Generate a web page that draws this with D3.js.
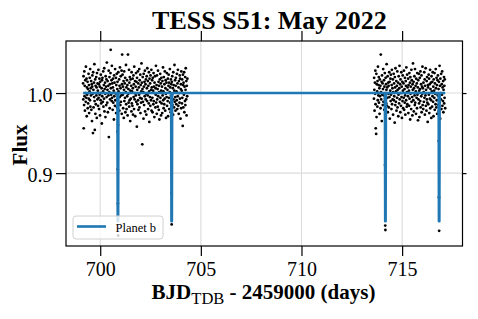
<!DOCTYPE html>
<html>
<head>
<meta charset="utf-8">
<script src="https://cdn.jsdelivr.net/npm/d3@7"></script>
<style>
  html, body { margin: 0; padding: 0; background: #fff; }
  svg { display: block; }
  text { white-space: pre; }
</style>
</head>
<body>
<svg id="chart" width="478" height="319"></svg>
<script>
"use strict";

// first chunk of data: time in 0.01 d after BJD 2459699, flux in ppt from 1
const SEG1_TIME = [
  15,16,17,18,20,21,22,23,24,26,27,28,29,31,32,33,34,35,37,38,
  39,40,42,43,44,45,47,48,49,50,51,53,54,55,56,58,59,60,61,62,
  64,65,66,67,69,70,71,72,73,75,76,77,78,80,81,82,83,84,86,87,
  88,89,91,92,93,94,96,97,98,99,100,102,103,104,105,107,108,109,110,111,
  113,114,115,116,118,119,120,121,122,124,125,126,127,129,130,131,132,133,135,136,
  137,138,140,141,142,143,145,146,147,148,149,151,152,153,154,156,157,158,159,160,
  162,163,164,165,167,168,169,170,171,173,174,175,176,178,179,180,181,182,184,185,
  186,187,189,190,191,192,194,195,196,197,198,200,201,202,203,205,206,207,208,209,
  211,212,213,214,216,217,218,219,220,222,223,224,225,227,228,229,230,231,233,234,
  235,236,238,239,240,241,243,244,245,246,247,249,250,251,252,254,255,256,257,258,
  260,261,262,263,265,266,267,268,269,271,272,273,274,276,277,278,279,280,282,283,
  284,285,287,288,289,290,292,293,294,295,296,298,299,300,301,303,304,305,306,307,
  309,310,311,312,314,315,316,317,318,320,321,322,323,325,326,327,328,329,331,332,
  333,334,336,337,338,339,341,342,343,344,345,347,348,349,350,352,353,354,355,356,
  358,359,360,361,363,364,365,366,367,369,370,371,372,374,375,376,377,378,380,381,
  382,383,385,386,387,388,390,391,392,393,394,396,397,398,399,401,402,403,404,405,
  407,408,409,410,412,413,414,415,416,418,419,420,421,423,424,425,426,427,429,430,
  431,432,434,435,436,437,439,440,441,442,443,445,446,447,448,450,451,452,453,454,
  456,457,458,459,461,462,463,464,465,467,468,469,470,472,473,474,475,476,478,479,
  480,481,483,484,485,486,488,489,490,491,492,494,495,496,497,499,500,501,502,503,
  505,506,507,508,510,511,512,513,514,516,517,518,519,521,522,523,524,525,527,528,
  529,530,532,533
];
const SEG1_FLUX = [
  12,-8,21,-44,-15,27,-4,9,-22,16,0,-11,33,-6,18,-29,7,-2,14,-19,
  5,-13,24,-7,10,-25,2,19,-9,30,-17,6,-3,15,-21,11,-35,8,22,-1,
  -50,26,4,-18,13,-5,36,-10,-46,17,-26,9,-14,20,-3,7,-31,25,-8,12,
  3,-16,29,-6,11,-20,18,-2,8,-28,14,-9,23,0,-13,6,-38,16,-4,19,
  -11,2,27,-17,10,-7,31,-23,5,13,-1,-30,21,8,-15,17,-5,38,-12,4,
  15,-24,9,-3,28,-55,1,20,-19,11,-8,25,54,6,-2,16,-10,34,-6,12,
  -21,7,18,-12,3,-33,22,-4,13,-16,30,-9,0,19,-25,10,-1,24,-18,5,
  14,-7,-40,26,2,-13,17,-22,9,-5,32,-15,6,21,-11,-3,28,-26,11,48,
  23,-2,8,-19,15,-31,4,27,-10,12,-6,19,-24,1,35,-14,7,-20,16,-4,
  10,-28,48,-1,5,-12,29,-17,13,-9,20,-35,3,17,-7,9,-23,26,-13,2,
  -16,18,6,-27,22,-5,11,-20,33,-8,0,15,-29,8,-3,25,-11,14,-42,19,
  4,-14,27,-9,12,-21,7,-2,30,-18,16,-6,23,-25,10,-12,2,37,-7,13,
  -64,5,20,-11,1,-32,24,8,-15,14,-4,28,-23,11,-8,17,-1,-27,21,6,
  -10,31,-3,15,-20,9,-13,26,2,-36,18,-5,12,-16,22,-9,4,29,-22,7,
  16,-6,-24,19,3,-14,25,-10,8,-30,13,0,21,-18,6,-2,34,-12,10,-26,
  22,-8,5,-17,28,-4,14,-21,9,1,-33,17,-11,24,-6,12,-28,3,19,-13,
  8,-25,15,-3,32,-9,2,-19,20,-14,11,-7,27,-22,6,16,-1,-31,13,-5,
  25,-16,4,-10,18,-29,9,23,-6,13,-20,1,30,-12,7,-24,17,-3,11,-37,
  14,-2,21,-15,6,-27,26,-8,10,-18,3,35,-11,16,-5,-22,9,19,-14,2,
  -9,24,-20,12,-4,29,-16,7,-26,15,0,-12,22,-7,18,-32,5,11,-19,27,
  3,-13,17,-6,-41,23,10,-18,13,-2,26,-24,8,-10,20,-15,4,31,-8,15,
  -28,9,-4,18
];

// second chunk: time in 0.01 d after BJD 2459713
const SEG2_TIME = [
  60,61,62,63,65,66,67,68,69,71,72,73,74,76,77,78,79,80,82,83,
  84,85,87,88,89,90,92,93,94,95,96,98,99,100,101,103,104,105,106,107,
  109,110,111,112,114,115,116,117,118,120,121,122,123,125,126,127,128,129,131,132,
  133,134,136,137,138,139,141,142,143,144,145,147,148,149,150,152,153,154,155,156,
  158,159,160,161,163,164,165,166,167,169,170,171,172,174,175,176,177,178,180,181,
  182,183,185,186,187,188,190,191,192,193,194,196,197,198,199,201,202,203,204,205,
  207,208,209,210,212,213,214,215,216,218,219,220,221,223,224,225,226,227,229,230,
  231,232,234,235,236,237,239,240,241,242,243,245,246,247,248,250,251,252,253,254,
  256,257,258,259,261,262,263,264,265,267,268,269,270,272,273,274,275,276,278,279,
  280,281,283,284,285,286,288,289,290,291,292,294,295,296,297,299,300,301,302,303,
  305,306,307,308,310,311,312,313,314,316,317,318,319,321,322,323,324,325,327,328,
  329,330,332,333,334,335,337,338,339,340,341,343,344,345,346,348,349,350,351,352,
  354,355,356,357,359,360,361,362,363,365,366,367,368,370,371,372,373,374,376,377,
  378,379,381,382,383,384,386,387,388,389,390,392,393,394,395,397,398,399,400,401,
  403,404,405,406,408,409,410,411,412,414
];
const SEG2_FLUX = [
  -7,19,4,-22,13,-1,28,-14,-44,-51,24,-30,11,2,-17,15,-9,33,-3,10,
  20,-12,6,-26,17,-4,9,-19,48,1,-8,14,-35,22,-2,12,-15,5,30,-11,
  -3,16,-21,8,25,-7,0,-28,19,11,-13,4,36,-16,7,-6,21,-24,13,-1,
  9,-18,26,-5,14,-32,3,18,-10,23,-2,-20,10,29,-14,6,-8,17,-27,1,
  24,-9,12,-4,-37,20,7,-15,31,-11,2,15,-22,9,-6,27,-18,4,13,-29,
  -2,21,-13,6,34,-8,11,-24,17,0,-16,26,-5,8,-31,14,-10,22,3,-19,
  12,-6,28,-21,5,-12,19,-3,-27,15,9,-9,32,-17,1,23,-14,7,-4,18,
  -25,10,3,-16,25,-7,13,-33,20,-1,8,-20,29,-11,16,-5,-28,11,4,37,
  -9,14,-23,6,21,-3,-15,30,-12,9,2,-26,18,-6,12,-19,25,-2,7,-34,
  16,-8,24,-13,3,-30,19,5,-10,27,-18,11,-4,22,-24,8,-1,33,-15,6,
  -20,13,1,-11,26,-6,17,-27,9,-3,31,-16,4,-22,15,-8,20,-12,-36,10,
  7,-14,23,-2,18,-25,11,-7,29,-19,5,13,-9,-31,21,2,-17,14,-4,26,
  -11,8,-29,17,3,-6,25,-21,12,-1,-14,30,6,-18,19,-9,10,-26,16,-3,
  22,-15,5,-23,14,-5,34,-12,9,-32,18,0,-8,24,-20,11,-2,27,-16,7,
  -10,15,-24,4,20,-13,9,-6,17,-19
];

// points taken during the four transits (BJD - 2459000)
const TRANSIT_TIME = [700.86, 700.87, 700.88, 700.89, 703.53, 703.54, 703.55, 714.15, 714.16, 714.17, 716.82, 716.83, 716.84];
const TRANSIT_FLUX = [0.952, 0.905, 0.862, 0.822, 0.93, 0.875, 0.836, 0.91, 0.8345, 0.829, 0.94, 0.87, 0.828];

// transit model for planet b
const MODEL_TIME = [699.15, 700.855, 700.87, 700.89, 700.905, 703.525, 703.54, 703.56, 703.575,
  714.145, 714.16, 714.18, 714.195, 716.815, 716.83, 716.85, 716.865, 717.14];
const MODEL_FLUX = [1, 1, 0.84, 0.84, 1, 1, 0.84, 0.84, 1, 1, 0.84, 0.84, 1, 1, 0.84, 0.84, 1, 1];

const X_TICKS = [700, 705, 710, 715];
const X_TICK_LABELS = ["700", "705", "710", "715"];
const Y_TICKS = [0.9, 1.0];
const Y_TICK_LABELS = ["0.9", "1.0"];

const FONT = '"Liberation Serif", "DejaVu Serif", serif';
const PLOT = { LEFT: 66, RIGHT: 462.5, TOP: 41, BOTTOM: 246 };
const BLUE = "#1f77b4";

const svg = d3.select("#chart").attr("font-family", FONT);

const x = d3.scaleLinear().domain([698.3, 718.0]).range([PLOT.LEFT, PLOT.RIGHT]);
const y = d3.scaleLinear().domain([0.809, 1.065]).range([PLOT.BOTTOM, PLOT.TOP]);

// grid
const grid = svg.append("g").attr("stroke", "#dcdcdc").attr("stroke-width", 1.1);
grid.selectAll("line.gx").data(X_TICKS).join("line")
  .attr("x1", d => x(d)).attr("x2", d => x(d))
  .attr("y1", PLOT.TOP).attr("y2", PLOT.BOTTOM);
grid.selectAll("line.gy").data(Y_TICKS).join("line")
  .attr("class", "gy")
  .attr("x1", PLOT.LEFT).attr("x2", PLOT.RIGHT)
  .attr("y1", d => y(d)).attr("y2", d => y(d));

const points = [
  ...SEG1_TIME.map((t, i) => [699 + t / 100, 1 + SEG1_FLUX[i] / 1000]),
  ...SEG2_TIME.map((t, i) => [713 + t / 100, 1 + SEG2_FLUX[i] / 1000]),
  ...TRANSIT_TIME.map((t, i) => [t, TRANSIT_FLUX[i]])
];

svg.append("g").selectAll("circle").data(points).join("circle")
  .attr("cx", d => x(d[0])).attr("cy", d => y(d[1]))
  .attr("r", 1.4).attr("fill", "#000");

const model = MODEL_TIME.map((t, i) => [t, MODEL_FLUX[i]]);
svg.append("path").datum(model)
  .attr("d", d3.line().x(d => x(d[0])).y(d => y(d[1])))
  .attr("fill", "none").attr("stroke", BLUE)
  .attr("stroke-width", 2.6).attr("stroke-linejoin", "round");

// frame
svg.append("rect")
  .attr("x", PLOT.LEFT).attr("y", PLOT.TOP)
  .attr("width", PLOT.RIGHT - PLOT.LEFT).attr("height", PLOT.BOTTOM - PLOT.TOP)
  .attr("fill", "none").attr("stroke", "#000").attr("stroke-width", 1.2);

function styleAxis(g, size) {
  g.attr("font-family", FONT).attr("font-size", size);
  g.select(".domain").remove();
  g.selectAll("line").attr("stroke", "#000").attr("stroke-width", 1.2);
  g.selectAll("text").attr("fill", "#000");
}

svg.append("g").attr("transform", `translate(0,${PLOT.BOTTOM})`)
  .call(d3.axisBottom(x).tickValues(X_TICKS).tickSize(10).tickPadding(6)
    .tickFormat((d, i) => X_TICK_LABELS[i]))
  .call(g => styleAxis(g, 20));
svg.append("g").attr("transform", `translate(0,${PLOT.TOP})`)
  .call(d3.axisTop(x).tickValues(X_TICKS).tickSize(10).tickFormat(""))
  .call(g => styleAxis(g, 20));
svg.append("g").attr("transform", `translate(${PLOT.LEFT},0)`)
  .call(d3.axisLeft(y).tickValues(Y_TICKS).tickSize(10).tickPadding(3.5)
    .tickFormat((d, i) => Y_TICK_LABELS[i]))
  .call(g => styleAxis(g, 20))
  .call(g => g.selectAll("text").attr("dy", "0.42em"));
svg.append("g").attr("transform", `translate(${PLOT.RIGHT},0)`)
  .call(d3.axisRight(y).tickValues(Y_TICKS).tickSize(4).tickFormat(""))
  .call(g => styleAxis(g, 20));

// legend
const legend = svg.append("g").attr("transform", "translate(73,216)");
legend.append("rect")
  .attr("width", 90).attr("height", 23).attr("rx", 3)
  .attr("fill", "#fff").attr("fill-opacity", 0.8)
  .attr("stroke", "#d0d0d0").attr("stroke-width", 1);
legend.append("line")
  .attr("x1", 4).attr("x2", 33).attr("y1", 10.5).attr("y2", 10.5)
  .attr("stroke", BLUE).attr("stroke-width", 2.6);
legend.append("text")
  .attr("x", 42.5).attr("y", 15.5)
  .attr("font-size", 12.5).text("Planet b");

// titles
svg.append("text")
  .attr("x", 269.5).attr("y", 28.5).attr("text-anchor", "middle")
  .attr("font-size", 26).attr("font-weight", "bold")
  .text("TESS S51: May 2022");

const xLabel = svg.append("text")
  .attr("x", 263.5).attr("y", 298.5).attr("text-anchor", "middle")
  .attr("font-size", 21).attr("font-weight", "bold");
xLabel.append("tspan").text("BJD");
xLabel.append("tspan").attr("font-size", 16.5).attr("font-weight", "normal")
  .attr("dy", 5.5).text("TDB");
xLabel.append("tspan").attr("dy", -5.5).text(" - 2459000 (days)");

svg.append("text")
  .attr("transform", "translate(27,145) rotate(-90)")
  .attr("text-anchor", "middle")
  .attr("font-size", 21).attr("font-weight", "bold")
  .text("Flux");
</script>
</body>
</html>
